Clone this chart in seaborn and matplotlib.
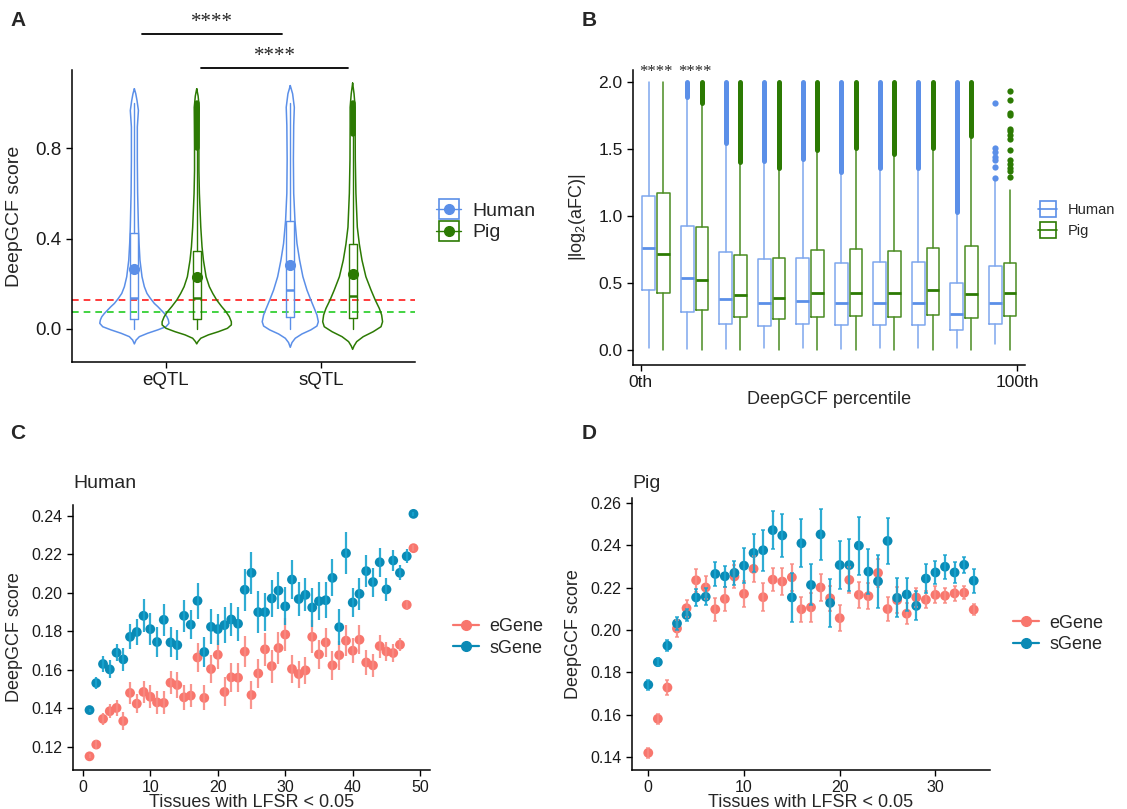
import numpy as np
import pandas as pd
import matplotlib
matplotlib.use("Agg")
import matplotlib.pyplot as plt
import seaborn as sns
from matplotlib.lines import Line2D
from matplotlib.legend_handler import HandlerTuple

# ---------------- Panel A: DeepGCF score of eQTL / sQTL ----------------
qtl_types = ["eQTL", "sQTL"]
a_human_q1 = [0.043, 0.051]
a_human_med = [0.137, 0.174]
a_human_q3 = [0.426, 0.476]
a_human_lo = [0.0, 0.0]
a_human_hi = [1.0, 1.0]
a_human_mean = [0.263, 0.285]
a_pig_q1 = [0.046, 0.050]
a_pig_med = [0.137, 0.146]
a_pig_q3 = [0.346, 0.375]
a_pig_lo = [0.0, 0.0]
a_pig_hi = [0.79, 0.855]
a_pig_mean = [0.231, 0.243]
a_pig_out_lo = [0.80, 0.862]
a_pig_out_hi = [1.0, 1.0]

# violin outlines (score level, half width)
vio_human_eqtl_y = [1.062, 1.04, 1.01, 0.966, 0.893, 0.746, 0.60, 0.45, 0.378, 0.304, 0.231, 0.187,
                    0.157, 0.135, 0.113, 0.099, 0.084, 0.069, 0.054, 0.040, 0.025, 0.010, -0.004,
                    -0.019, -0.034, -0.049, -0.066]
vio_human_eqtl_w = [0.0, 0.009, 0.017, 0.026, 0.019, 0.019, 0.021, 0.026, 0.030, 0.036, 0.049, 0.064,
                    0.081, 0.103, 0.128, 0.150, 0.171, 0.192, 0.209, 0.218, 0.222, 0.203, 0.150,
                    0.085, 0.032, 0.011, 0.0]
vio_pig_eqtl_y = [1.062, 1.03, 0.98, 0.90, 0.80, 0.70, 0.60, 0.45, 0.363, 0.304, 0.231, 0.187, 0.157,
                  0.128, 0.099, 0.076, 0.054, 0.032, 0.018, 0.003, -0.012, -0.026, -0.041, -0.056, -0.066]
vio_pig_eqtl_w = [0.0, 0.009, 0.016, 0.015, 0.014, 0.014, 0.017, 0.026, 0.034, 0.043, 0.060, 0.081, 0.103,
                  0.128, 0.160, 0.188, 0.209, 0.222, 0.222, 0.197, 0.139, 0.075, 0.026, 0.008, 0.0]
vio_human_sqtl_y = [1.076, 1.04, 0.98, 0.90, 0.75, 0.60, 0.48, 0.378, 0.304, 0.231, 0.172, 0.128, 0.091,
                    0.062, 0.032, 0.013, -0.004, -0.022, -0.041, -0.060, -0.081]
vio_human_sqtl_w = [0.0, 0.015, 0.026, 0.022, 0.020, 0.022, 0.030, 0.043, 0.060, 0.081, 0.107, 0.132, 0.154,
                    0.171, 0.180, 0.171, 0.132, 0.075, 0.032, 0.011, 0.0]
vio_pig_sqtl_y = [1.087, 1.04, 0.98, 0.90, 0.75, 0.60, 0.45, 0.375, 0.304, 0.231, 0.172, 0.128, 0.091,
                  0.062, 0.032, 0.010, -0.012, -0.034, -0.056, -0.075, -0.090]
vio_pig_sqtl_w = [0.0, 0.009, 0.016, 0.016, 0.017, 0.021, 0.030, 0.043, 0.060, 0.085, 0.118, 0.145, 0.171,
                  0.186, 0.192, 0.182, 0.132, 0.068, 0.026, 0.009, 0.0]
a_red_line = 0.128
a_green_line = 0.0735
a_sig_bars = [(0.85, 1.75, 1.304), (1.23, 2.17, 1.154)]

# ---------------- Panel B: |log2(aFC)| per DeepGCF percentile bin ----------------
b_bins = list(range(1, 11))
b_human_q1 = [0.448, 0.284, 0.199, 0.179, 0.197, 0.192, 0.188, 0.187, 0.153, 0.196]
b_human_med = [0.760, 0.542, 0.383, 0.353, 0.366, 0.352, 0.352, 0.352, 0.270, 0.350]
b_human_q3 = [1.154, 0.925, 0.736, 0.677, 0.689, 0.651, 0.660, 0.660, 0.503, 0.629]
b_human_lo = [0.017, 0.007, 0.007, 0.017, 0.017, 0.012, 0.017, 0.017, 0.017, 0.050]
b_human_hi = [2.000, 1.873, 1.532, 1.405, 1.415, 1.319, 1.350, 1.350, 1.020, 1.270]
b_human_out_lo = [None, 1.885, 1.545, 1.415, 1.425, 1.330, 1.360, 1.360, 1.030, None]
b_human_out_bin10 = [1.287, 1.366, 1.416, 1.441, 1.478, 1.511, 1.843]
b_pig_q1 = [0.425, 0.303, 0.251, 0.234, 0.249, 0.257, 0.251, 0.260, 0.243, 0.258]
b_pig_med = [0.716, 0.527, 0.415, 0.391, 0.425, 0.430, 0.426, 0.449, 0.419, 0.430]
b_pig_q3 = [1.172, 0.918, 0.711, 0.689, 0.749, 0.758, 0.738, 0.760, 0.777, 0.651]
b_pig_lo = [0.0] * 10
b_pig_hi = [2.000, 1.833, 1.393, 1.348, 1.483, 1.497, 1.450, 1.499, 1.588, 1.198]
b_pig_out_lo = [None, 1.845, 1.405, 1.360, 1.495, 1.510, 1.460, 1.510, 1.600, None]
b_pig_out_bin10 = [1.292, 1.334, 1.361, 1.391, 1.416, 1.496, 1.573, 1.602, 1.632, 1.652, 1.752,
                   1.769, 1.863, 1.933]
b_out_max = 2.0
b_sig_bins = [1, 2]

# ---------------- Panels C / D: score vs number of tissues ----------------
c_tissues = list(range(1, 50))
c_egene = [0.1151, 0.1212, 0.1345, 0.1385, 0.1402, 0.1334, 0.1480, 0.1424, 0.1485, 0.1460, 0.1431,
           0.1428, 0.1533, 0.1521, 0.1457, 0.1466, 0.1664, 0.1454, 0.1604, 0.1678, 0.1485, 0.1561,
           0.1559, 0.1694, 0.1469, 0.1581, 0.1706, 0.1619, 0.1713, 0.1783, 0.1604, 0.1578, 0.1597,
           0.1771, 0.1680, 0.1742, 0.1623, 0.1676, 0.1751, 0.1699, 0.1756, 0.1638, 0.1623, 0.1723,
           0.1695, 0.1687, 0.1730, 0.1937, 0.2231]
c_egene_se = [0.0010, 0.0022, 0.0030, 0.0035, 0.0040, 0.0045, 0.0055, 0.0050, 0.0055, 0.0060, 0.0060,
              0.0060, 0.0060, 0.0065, 0.0065, 0.0060, 0.0075, 0.0065, 0.0075, 0.0075, 0.0075, 0.0075,
              0.0075, 0.0080, 0.0075, 0.0075, 0.0085, 0.0085, 0.0085, 0.0085, 0.0075, 0.0070, 0.0070,
              0.0085, 0.0075, 0.0075, 0.0075, 0.0075, 0.0080, 0.0065, 0.0075, 0.0065, 0.0060, 0.0060,
              0.0050, 0.0045, 0.0035, 0.0025, 0.0015]
c_sgene = [0.1391, 0.1531, 0.1630, 0.1602, 0.1689, 0.1654, 0.1771, 0.1796, 0.1880, 0.1811, 0.1744,
           0.1859, 0.1742, 0.1728, 0.1880, 0.1834, 0.1958, 0.1692, 0.1823, 0.1811, 0.1832, 0.1861,
           0.1839, 0.2015, 0.2103, 0.1899, 0.1899, 0.1970, 0.2011, 0.1929, 0.2068, 0.1967, 0.1989,
           0.1923, 0.1956, 0.1961, 0.2077, 0.1821, 0.2205, 0.1949, 0.1994, 0.2112, 0.2055, 0.2158,
           0.2017, 0.2167, 0.2103, 0.2189, 0.2409]
c_sgene_se = [0.0008, 0.0031, 0.0043, 0.0047, 0.0046, 0.0059, 0.0064, 0.0069, 0.0086, 0.0083, 0.0076,
              0.0083, 0.0078, 0.0078, 0.0083, 0.0076, 0.0093, 0.0078, 0.0090, 0.0080, 0.0092, 0.0088,
              0.0089, 0.0109, 0.0109, 0.0108, 0.0099, 0.0098, 0.0095, 0.0098, 0.0103, 0.0086, 0.0086,
              0.0102, 0.0098, 0.0092, 0.0096, 0.0093, 0.0110, 0.0076, 0.0082, 0.0083, 0.0075, 0.0076,
              0.0060, 0.0054, 0.0039, 0.0036, 0.0010]

d_tissues = list(range(0, 35))
d_egene = [0.1419, 0.1580, 0.1728, 0.2007, 0.2103, 0.2235, 0.2201, 0.2098, 0.2147, 0.2253, 0.2171,
           0.2289, 0.2155, 0.2238, 0.2229, 0.2249, 0.2098, 0.2107, 0.2201, 0.2150, 0.2056, 0.2237,
           0.2166, 0.2160, 0.2270, 0.2099, 0.2141, 0.2077, 0.2154, 0.2143, 0.2166, 0.2162, 0.2173,
           0.2176, 0.2096]
d_egene_se = [0.0025, 0.0025, 0.0035, 0.0040, 0.0040, 0.0055, 0.0055, 0.0055, 0.0055, 0.0055, 0.0060,
              0.0060, 0.0065, 0.0055, 0.0065, 0.0065, 0.0060, 0.0070, 0.0065, 0.0060, 0.0060, 0.0060,
              0.0060, 0.0060, 0.0065, 0.0055, 0.0060, 0.0050, 0.0045, 0.0040, 0.0040, 0.0035, 0.0035,
              0.0030, 0.0025]
d_sgene = [0.1741, 0.1848, 0.1926, 0.2031, 0.2071, 0.2154, 0.2157, 0.2265, 0.2254, 0.2270, 0.2304,
           0.2364, 0.2377, 0.2472, 0.2447, 0.2154, 0.2410, 0.2213, 0.2452, 0.2128, 0.2307, 0.2307,
           0.2399, 0.2276, 0.2230, 0.2421, 0.2152, 0.2168, 0.2114, 0.2243, 0.2272, 0.2299, 0.2272,
           0.2308, 0.2233]
d_sgene_se = [0.0024, 0.0020, 0.0025, 0.0030, 0.0030, 0.0040, 0.0040, 0.0058, 0.0050, 0.0055, 0.0082,
              0.0088, 0.0096, 0.0089, 0.0103, 0.0116, 0.0114, 0.0097, 0.0120, 0.0114, 0.0114, 0.0122,
              0.0137, 0.0106, 0.0124, 0.0108, 0.0092, 0.0080, 0.0068, 0.0070, 0.0056, 0.0056, 0.0050,
              0.0038, 0.0056]

HUMAN = "#5B8FE8"
HUMAN_BOX = "#7FA7EE"
PIG = "#2C7A03"
PIG_BOX = "#4A8C22"
EGENE = "#F8766D"
EGENE_BAR = "#F98A82"
SGENE = "#0A8AB5"
SGENE_BAR = "#17A3CF"

sns.set_theme(style="ticks")
plt.rcParams["font.family"] = ["Liberation Sans", "DejaVu Sans"]
plt.rcParams["mathtext.fontset"] = "custom"
plt.rcParams["mathtext.rm"] = "Liberation Sans"
plt.rcParams["mathtext.it"] = "Liberation Sans"

W, H = 1127, 809
fig = plt.figure(figsize=(W / 100, H / 100), dpi=100)


def px_box(l, t, r, b):
    return [l / W, 1 - b / H, (r - l) / W, (b - t) / H]


def style_axes(ax, tick_size):
    sns.despine(ax=ax)
    for s in ["left", "bottom"]:
        ax.spines[s].set_color("black")
        ax.spines[s].set_linewidth(1.1)
    ax.tick_params(axis="both", colors="black", labelcolor="#1a1a1a", labelsize=tick_size,
                   length=4, width=1, direction="out")
    ax.grid(False)


def draw_violin(ax, pos, ys, ws, color):
    ys = np.asarray(ys)
    ws = np.asarray(ws)
    xs = np.concatenate([pos - ws, (pos + ws)[::-1]])
    yy = np.concatenate([ys, ys[::-1]])
    ax.plot(xs, yy, color=color, lw=1.1, solid_joinstyle="round", zorder=2)


def draw_band(ax, x, lo, hi, color, lw):
    lc = ax.vlines(x, lo, hi, color=color, lw=lw, zorder=3)
    lc.set_capstyle("round")


# ================= Panel A =================
axA = fig.add_axes(px_box(72, 70, 415, 362))
vios = {("Human", 0): (vio_human_eqtl_y, vio_human_eqtl_w), ("Pig", 0): (vio_pig_eqtl_y, vio_pig_eqtl_w),
        ("Human", 1): (vio_human_sqtl_y, vio_human_sqtl_w), ("Pig", 1): (vio_pig_sqtl_y, vio_pig_sqtl_w)}
for i in range(len(qtl_types)):
    for sp, off, color in [("Human", -0.2, HUMAN), ("Pig", 0.2, PIG)]:
        pos = i + 1 + off
        vy, vw = vios[(sp, i)]
        draw_violin(axA, pos, vy, vw, color)
        if sp == "Human":
            st = dict(med=a_human_med[i], q1=a_human_q1[i], q3=a_human_q3[i], whislo=a_human_lo[i],
                      whishi=a_human_hi[i], mean=a_human_mean[i], fliers=[])
        else:
            st = dict(med=a_pig_med[i], q1=a_pig_q1[i], q3=a_pig_q3[i], whislo=a_pig_lo[i],
                      whishi=a_pig_hi[i], mean=a_pig_mean[i], fliers=[])
            draw_band(axA, pos, a_pig_out_lo[i], a_pig_out_hi[i], color, 4.0)
        axA.bxp([st], positions=[pos], widths=0.05, showmeans=True, showcaps=False, showfliers=False,
                boxprops=dict(color=color, lw=1.0), whiskerprops=dict(color=color, lw=1.0),
                medianprops=dict(color=color, lw=1.8),
                meanprops=dict(marker="o", markerfacecolor=color, markeredgecolor=color, markersize=7),
                manage_ticks=False)
axA.axhline(a_red_line, color="#FF1A1A", ls=(0, (4, 3)), lw=1.2, zorder=1)
axA.axhline(a_green_line, color="#22CC22", ls=(0, (4, 3)), lw=1.2, zorder=1)
for x0, x1, yb in a_sig_bars:
    axA.plot([x0, x1], [yb, yb], color="black", lw=1.3, clip_on=False)
    axA.text((x0 + x1) / 2, yb + 0.008, "****", ha="center", va="bottom", fontsize=15,
             family=["Liberation Serif", "DejaVu Serif"], clip_on=False)
axA.set_xlim(0.4, 2.6)
axA.set_ylim(-0.146, 1.145)
axA.set_xticks([1, 2])
axA.set_xticklabels(qtl_types)
axA.set_yticks([0.0, 0.4, 0.8])
axA.set_yticklabels(["0.0", "0.4", "0.8"])
style_axes(axA, 13.5)
axA.set_ylabel("DeepGCF score", fontsize=14)
axA.yaxis.set_label_coords(-0.143, 0.5)
axA.set_xlabel("")
hA = [(Line2D([], [], marker="s", ls="none", markersize=15, mfc="white", mec=c, mew=1.2),
       Line2D([], [], color=c, lw=1.0),
       Line2D([], [], marker="o", ls="none", markersize=7, color=c)) for c in [HUMAN, PIG]]
axA.legend(hA, ["Human", "Pig"], handler_map={tuple: HandlerTuple(ndivide=1)}, loc="center left",
           bbox_to_anchor=(1.01, 0.48), frameon=False, fontsize=14, handlelength=1.3,
           handletextpad=0.6, labelspacing=0.2)

# ================= Panel B =================
axB = fig.add_axes(px_box(633, 70, 1025, 365))
for sp, off, color, boxc in [("Human", -0.19, HUMAN, HUMAN_BOX), ("Pig", 0.19, PIG, PIG_BOX)]:
    if sp == "Human":
        q1, med, q3, lo, hi = b_human_q1, b_human_med, b_human_q3, b_human_lo, b_human_hi
        out_lo, out10 = b_human_out_lo, b_human_out_bin10
    else:
        q1, med, q3, lo, hi = b_pig_q1, b_pig_med, b_pig_q3, b_pig_lo, b_pig_hi
        out_lo, out10 = b_pig_out_lo, b_pig_out_bin10
    stats = []
    for k in range(len(b_bins)):
        stats.append(dict(med=med[k], q1=q1[k], q3=q3[k], whislo=lo[k], whishi=hi[k],
                          fliers=out10 if k == len(b_bins) - 1 else []))
        if out_lo[k] is not None:
            draw_band(axB, b_bins[k] + off, out_lo[k], b_out_max, color, 3.6)
    axB.bxp(stats, positions=[b + off for b in b_bins], widths=0.33, showcaps=False, showfliers=True,
            boxprops=dict(color=boxc, lw=1.1), whiskerprops=dict(color=boxc, lw=1.1),
            medianprops=dict(color=color, lw=2.0),
            flierprops=dict(marker="o", markerfacecolor=color, markeredgecolor="none", markersize=4.5),
            manage_ticks=False)
for b in b_sig_bins:
    axB.text(b, 2.075, "****", ha="center", va="center", fontsize=12,
             family=["Liberation Serif", "DejaVu Serif"], clip_on=False)
axB.set_xlim(0.4, 10.58)
axB.set_ylim(-0.11, 2.09)
axB.set_xticks([0.606, 10.37])
axB.set_xticklabels(["0th", "100th"])
axB.set_yticks([0.0, 0.5, 1.0, 1.5, 2.0])
axB.set_yticklabels(["0.0", "0.5", "1.0", "1.5", "2.0"])
style_axes(axB, 12.5)
axB.set_ylabel("|log$_2$(aFC)|", fontsize=13)
axB.yaxis.set_label_coords(-0.115, 0.5)
axB.set_xlabel("DeepGCF percentile", fontsize=13)
axB.xaxis.set_label_coords(0.5, -0.088)
hB = [(Line2D([], [], marker="s", ls="none", markersize=12, mfc="white", mec=c, mew=1.2),
       Line2D([], [], color=c, lw=1.2)) for c in [HUMAN, PIG]]
axB.legend(hB, ["Human", "Pig"], handler_map={tuple: HandlerTuple(ndivide=1)}, loc="center left",
           bbox_to_anchor=(1.0, 0.49), frameon=False, fontsize=10.5, handlelength=1.3,
           handletextpad=0.7, labelspacing=0.45)


# ================= Panels C and D =================
def draw_tissue_panel(ax, x, e, e_se, s, s_se, cap):
    df = pd.DataFrame({"tissues": list(x) + list(x), "score": list(e) + list(s),
                       "gene": ["eGene"] * len(x) + ["sGene"] * len(x)})
    sns.scatterplot(data=df, x="tissues", y="score", hue="gene",
                    palette={"eGene": EGENE, "sGene": SGENE}, s=50, linewidth=0, legend=False,
                    ax=ax, zorder=2)
    ax.errorbar(x, e, yerr=e_se, fmt="none", ecolor=EGENE_BAR, elinewidth=1.6, capsize=cap,
                capthick=1.1, zorder=3, alpha=0.9)
    ax.errorbar(x, s, yerr=s_se, fmt="none", ecolor=SGENE_BAR, elinewidth=1.6, capsize=cap,
                capthick=1.1, zorder=3, alpha=0.9)
    hs = [Line2D([], [], color=c, lw=1.6, marker="o", markersize=7) for c in [EGENE, SGENE]]
    ax.legend(hs, ["eGene", "sGene"], loc="center left", bbox_to_anchor=(1.02, 0.5), frameon=False,
              fontsize=13, handlelength=1.4, handletextpad=0.6, labelspacing=0.25)


axC = fig.add_axes(px_box(73, 505, 430, 770))
draw_tissue_panel(axC, c_tissues, c_egene, c_egene_se, c_sgene, c_sgene_se, 0)
axC.set_xlim(-1.45, 51.45)
axC.set_ylim(0.108, 0.2455)
axC.set_xticks([0, 10, 20, 30, 40, 50])
axC.set_yticks([0.12, 0.14, 0.16, 0.18, 0.20, 0.22, 0.24])
axC.set_yticklabels(["0.12", "0.14", "0.16", "0.18", "0.20", "0.22", "0.24"])
style_axes(axC, 11.5)
axC.set_ylabel("DeepGCF score", fontsize=13)
axC.yaxis.set_label_coords(-0.14, 0.5)
axC.set_xlabel("Tissues with LFSR < 0.05", fontsize=13, va="baseline")
axC.xaxis.set_label_coords(0.5, (770 - 807) / 265)
axC.annotate("Human", xy=(0, 1), xycoords="axes fraction", xytext=(0, 12), textcoords="offset points",
             ha="left", va="baseline", fontsize=14)

axD = fig.add_axes(px_box(632, 498, 990, 770))
draw_tissue_panel(axD, d_tissues, d_egene, d_egene_se, d_sgene, d_sgene_se, 1.5)
axD.set_xlim(-1.7, 35.7)
axD.set_ylim(0.1338, 0.2624)
axD.set_xticks([0, 10, 20, 30])
axD.set_yticks([0.14, 0.16, 0.18, 0.20, 0.22, 0.24, 0.26])
axD.set_yticklabels(["0.14", "0.16", "0.18", "0.20", "0.22", "0.24", "0.26"])
style_axes(axD, 11.5)
axD.set_ylabel("DeepGCF score", fontsize=13)
axD.yaxis.set_label_coords(-0.14, 0.5)
axD.set_xlabel("Tissues with LFSR < 0.05", fontsize=13, va="baseline")
axD.xaxis.set_label_coords(0.5, (770 - 807) / 272)
axD.annotate("Pig", xy=(0, 1), xycoords="axes fraction", xytext=(0, 7), textcoords="offset points",
             ha="left", va="baseline", fontsize=14)

# panel letters
for lab, x, y in [("A", 18, 20), ("B", 589, 20), ("C", 18, 433), ("D", 589, 433)]:
    fig.text(x / W, 1 - y / H, lab, fontsize=15, fontweight="bold", ha="center", va="center")

fig.savefig("out.png", dpi=100)
